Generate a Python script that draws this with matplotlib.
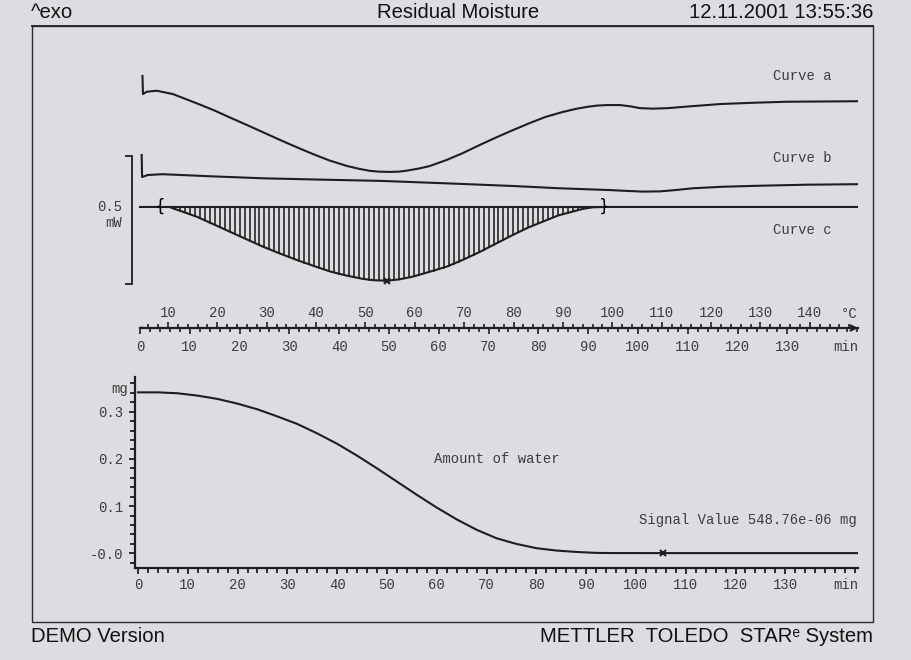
import numpy as np
import matplotlib
matplotlib.use('Agg')
import matplotlib.pyplot as plt
from matplotlib.patches import Rectangle
from matplotlib.ticker import MultipleLocator, FixedLocator, FixedFormatter

# ---------------- data ----------------
# DSC curves (time in min, heat flow in mW, display offsets included)
time_a = [0.5, 0.6, 1.35, 3.35, 6.6, 8.6, 11.5, 14.7, 18, 21.5, 24.8, 28.1, 31.4, 34.7, 38, 41.6,
          44, 46.2, 48, 50.2, 52, 53.6, 56, 58.2, 61.5, 64.9, 68, 71.7, 75, 78.3, 81.5, 84.9,
          87.5, 89.8, 91.8, 93.8, 96.4, 98.5, 100.4, 103.0, 106, 109.8, 116.5, 123.1, 129.9, 137, 144.2]
curve_a = [0.512, 0.441, 0.450, 0.454, 0.441, 0.426, 0.404, 0.379, 0.350, 0.320, 0.291, 0.262,
           0.234, 0.207, 0.182, 0.160, 0.149, 0.141, 0.138, 0.137, 0.138, 0.142, 0.150, 0.160,
           0.183, 0.211, 0.240, 0.273, 0.301, 0.328, 0.352, 0.371, 0.383, 0.391, 0.396, 0.398,
           0.398, 0.393, 0.386, 0.384, 0.386, 0.392, 0.402, 0.407, 0.411, 0.412, 0.413]

time_b = [0.34, 0.42, 1.6, 4.6, 14, 24.7, 36, 48.2, 62, 74.9, 84.3, 90, 94.4, 97.5, 101.0,
          104.5, 107.5, 111.0, 117, 124.5, 134, 144.2]
curve_b = [0.203, 0.117, 0.125, 0.128, 0.120, 0.112, 0.107, 0.102, 0.092, 0.082, 0.073, 0.069,
           0.066, 0.063, 0.060, 0.061, 0.066, 0.073, 0.079, 0.083, 0.087, 0.089]

time_c = [0, 4.0, 6.0, 6.6, 8.5, 11.4, 14.5, 18.1, 21.5, 24.7, 28, 31.5, 35, 38.2, 41.5, 44.8,
          47, 49.6, 52, 54.8, 58, 61.6, 65, 68.3, 71.5, 74.9, 78, 81.7, 84, 86.9, 89, 91.0, 93.2, 144.2]
curve_c = [0, 0, 0, -0.005, -0.018, -0.038, -0.065, -0.097, -0.127, -0.155, -0.181, -0.207,
           -0.231, -0.252, -0.268, -0.281, -0.286, -0.288, -0.283, -0.272, -0.254, -0.233,
           -0.205, -0.175, -0.143, -0.109, -0.080, -0.051, -0.033, -0.018, -0.007, -0.001, 0, 0]

integration_limits = [4.0, 93.2]     # min
scale_bar_mw = 0.5
scale_bar_top = 0.199

# temperature program (°C at start and end of time range)
time_range = [0, 144.2]
temp_range = [4.33, 149.75]

# amount of water (mg)
time_w = [0, 4, 8, 12, 16, 20, 24, 28, 32, 36, 40, 44, 48, 52, 56, 60, 64, 68, 72, 76, 80,
          84, 88, 92, 96, 144.6]
water = [0.341, 0.341, 0.339, 0.334, 0.327, 0.317, 0.305, 0.290, 0.274, 0.254, 0.232, 0.207,
         0.180, 0.152, 0.124, 0.097, 0.072, 0.050, 0.032, 0.020, 0.011, 0.006, 0.003, 0.001,
         0.0006, 0.0005]
signal_time = 105.4
signal_value = 548.76e-06

water_ticks = [0.0, 0.1, 0.2, 0.3]
water_tick_labels = ['-0.0', '0.1', '0.2', '0.3']
min_ticks = list(range(0, 140, 10))
temp_ticks = list(range(10, 150, 10))

# ---------------- style ----------------
BG = '#dcdde0'
INK = '#1e1e1e'
TXT = '#3c3c3c'
MONO = ['Liberation Mono', 'DejaVu Sans Mono']
SANS = ['Liberation Sans', 'DejaVu Sans']
plt.rcParams['font.family'] = MONO
plt.rcParams['font.size'] = 10

W, H = 912, 660


def box(x0, y0, x1, y1):
    return [x0 / W, 1 - y1 / H, (x1 - x0) / W, (y1 - y0) / H]


fig = plt.figure(figsize=(W / 100, H / 100), dpi=100, facecolor=BG)

# overlay for frame, header and footer
ov = fig.add_axes([0, 0, 1, 1])
ov.set_xlim(0, W)
ov.set_ylim(H, 0)
ov.axis('off')
ov.patch.set_alpha(0)
ov.add_patch(Rectangle((32, 26), 841, 596, fill=False, lw=1.0, ec='#2a2a2a'))
ov.plot([32, 873], [26, 26], color='#2a2a2a', lw=1.4)
hdr = dict(family=SANS, fontsize=14.6, color='#111111', va='center')
ov.text(31, 13, '^exo', ha='left', **hdr)
ov.text(458, 13, 'Residual Moisture', ha='center', **hdr)
ov.text(873, 13, '12.11.2001 13:55:36', ha='right', **hdr)
ov.text(31, 636, 'DEMO Version', ha='left', **hdr)
ov.text(873, 636, 'METTLER  TOLEDO  STAR\u1d49 System', ha='right', **hdr)

# ---------------- top DSC panel ----------------
ax = fig.add_axes(box(100, 60, 858, 295))
ax.set_xlim(-8.03, 144.2)
ax.set_ylim(-0.34375, 0.574)
ax.axis('off')
ax.patch.set_alpha(0)
lw = 1.5
ax.plot(time_a, curve_a, color=INK, lw=lw)
ax.plot(time_b, curve_b, color=INK, lw=lw)
ax.plot(time_c, curve_c, color=INK, lw=lw)
ax.plot(integration_limits, [0, 0], color=INK, lw=lw)
for tt in np.arange(5, 93, 1.0):
    v = np.interp(tt, time_c, curve_c)
    ax.plot([tt, tt], [0, v], color=INK, lw=1.15)
for tl, ch in zip(integration_limits, ['{', '}']):
    ax.text(tl, 0, ch, ha='center', va='center', fontsize=12, color='#000000',
            family=['DejaVu Sans'])
imin = int(np.argmin(curve_c))
ax.plot(time_c[imin], curve_c[imin], marker='x', color=INK, ms=5, mew=1.5)

# scale bar
sx = -1.67
ax.plot([sx - 1.1, sx, sx, sx - 1.1],
        [scale_bar_top, scale_bar_top, scale_bar_top - scale_bar_mw, scale_bar_top - scale_bar_mw],
        color=INK, lw=1.3, solid_joinstyle='miter')
ax.text(-3.6, 0.0, '0.5', ha='right', va='center', color=TXT)
ax.text(-3.6, -0.062, 'mW', ha='right', va='center', color=TXT)

# curve labels
ax.text(133, 0.512, 'Curve a', ha='center', va='center', color=TXT)
ax.text(133, 0.191, 'Curve b', ha='center', va='center', color=TXT)
ax.text(133, -0.090, 'Curve c', ha='center', va='center', color=TXT)

# ---------------- time / temperature axis ----------------
axm = fig.add_axes(box(140, 327.6, 858, 328))
axm.set_xlim(*time_range)
axm.set_ylim(0, 1)
axm.patch.set_alpha(0)
for s in ['top', 'left', 'right']:
    axm.spines[s].set_visible(False)
axm.spines['bottom'].set_linewidth(1.6)
axm.spines['bottom'].set_color(INK)
axm.yaxis.set_visible(False)
axm.xaxis.set_major_locator(FixedLocator(min_ticks))
axm.xaxis.set_minor_locator(MultipleLocator(2))
axm.tick_params(axis='x', which='major', direction='out', length=4.5, width=1.2, color=INK,
                labelcolor=TXT, labelsize=10, pad=4)
axm.tick_params(axis='x', which='minor', direction='out', length=3, width=1.2, color=INK)

axT = axm.twiny()
axT.set_xlim(*temp_range)
for s in ['top', 'left', 'right', 'bottom']:
    axT.spines[s].set_visible(False)
axT.xaxis.set_major_locator(FixedLocator(temp_ticks))
axT.xaxis.set_minor_locator(MultipleLocator(2))
axT.tick_params(axis='x', which='major', direction='out', length=4.5, width=1.2, color=INK,
                labelcolor=TXT, labelsize=10, pad=1)
axT.tick_params(axis='x', which='minor', direction='out', length=3, width=1.2, color=INK)
axm.annotate('', xy=(1.004, 0), xytext=(0.985, 0), xycoords='axes fraction',
             arrowprops=dict(arrowstyle='->', lw=1.6, color=INK, mutation_scale=9))
axm.plot([0, 0.4], [0, 0.9], color=INK, lw=1.4, clip_on=False,
         transform=axm.get_xaxis_transform())
ov.text(858, 314, '\u00b0C', ha='right', va='center', color=TXT, fontsize=10)
ov.text(858, 347, 'min', ha='right', va='center', color=TXT, fontsize=10)

# ---------------- bottom water panel ----------------
axb = fig.add_axes(box(135, 377, 858, 568))
axb.set_xlim(-0.6, 144.6)
axb.set_ylim(-0.031, 0.3735)
axb.patch.set_alpha(0)
for s in ['top', 'right']:
    axb.spines[s].set_visible(False)
for s in ['left', 'bottom']:
    axb.spines[s].set_linewidth(1.6)
    axb.spines[s].set_color(INK)
axb.plot(time_w, water, color=INK, lw=lw)
axb.plot(signal_time, signal_value, marker='x', color=INK, ms=5, mew=1.5)
axb.xaxis.set_major_locator(FixedLocator(min_ticks))
axb.xaxis.set_minor_locator(MultipleLocator(2))
axb.yaxis.set_major_locator(FixedLocator(water_ticks))
axb.yaxis.set_major_formatter(FixedFormatter(water_tick_labels))
axb.yaxis.set_minor_locator(FixedLocator(np.arange(-0.02, 0.37, 0.02)))
axb.tick_params(which='major', direction='out', length=4.5, width=1.3, color=INK,
                labelcolor=TXT, labelsize=10)
axb.tick_params(which='minor', direction='out', length=3.5, width=1.3, color=INK)
axb.tick_params(axis='x', which='major', pad=3)
axb.tick_params(axis='y', which='major', pad=4)
ov.text(128, 389, 'mg', ha='right', va='center', color=TXT, fontsize=10)
ov.text(858, 585, 'min', ha='right', va='center', color=TXT, fontsize=10)
axb.text(72, 0.2, 'Amount of water', ha='center', va='center', color=TXT)
axb.text(144.4, 0.07, 'Signal Value 548.76e-06 mg', ha='right', va='center', color=TXT)

fig.savefig('out.png', dpi=100, facecolor=BG)
